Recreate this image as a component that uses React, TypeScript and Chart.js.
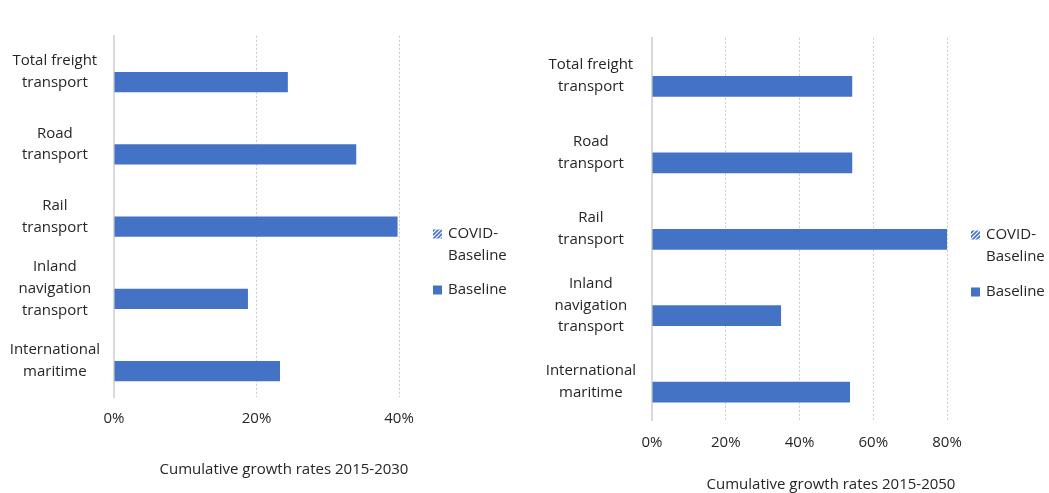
import React, { useEffect, useRef } from 'react';
import { Chart, registerables } from 'chart.js';

Chart.register(...registerables);

// ---------- data ----------
const categories: string[][] = [
  ['Total freight', 'transport'],
  ['Road', 'transport'],
  ['Rail', 'transport'],
  ['Inland', 'navigation', 'transport'],
  ['International', 'maritime'],
];
const seriesNames = ['COVID-Baseline', 'Baseline'];

const covid2030: (number | null)[] = [null, null, null, null, null];
const baseline2030 = [0.244, 0.34, 0.398, 0.188, 0.233];
const ticks2030 = [0, 0.2, 0.4];
const title2030 = 'Cumulative growth rates 2015-2030';

const covid2050: (number | null)[] = [null, null, null, null, null];
const baseline2050 = [0.543, 0.543, 0.8, 0.35, 0.537];
const ticks2050 = [0, 0.2, 0.4, 0.6, 0.8];
const title2050 = 'Cumulative growth rates 2015-2050';

// ---------- style ----------
const FONT = '"Open Sans", "Noto Sans", sans-serif';
const FONT_SIZE = 15;
const TEXT = '#262626';
const BLUE = '#4472C4';

function makeHatch(): CanvasPattern | string {
  const c = document.createElement('canvas');
  c.width = 4;
  c.height = 4;
  const g = c.getContext('2d');
  if (!g) return BLUE;
  g.fillStyle = '#ffffff';
  g.fillRect(0, 0, 4, 4);
  g.strokeStyle = BLUE;
  g.lineWidth = 1.6;
  g.beginPath();
  g.moveTo(0, 4);
  g.lineTo(4, 0);
  g.moveTo(-1, 1);
  g.lineTo(1, -1);
  g.moveTo(3, 5);
  g.lineTo(5, 3);
  g.stroke();
  const p = g.createPattern(c, 'repeat');
  return p || BLUE;
}

const sideLegend = {
  id: 'sideLegend',
  afterDraw(chart: any, _args: any, opts: any) {
    const { ctx } = chart;
    ctx.save();
    ctx.font = `${FONT_SIZE}px ${FONT}`;
    ctx.textBaseline = 'middle';
    ctx.textAlign = 'left';
    chart.data.datasets.forEach((ds: any, i: number) => {
      const y = opts.ys[i];
      ctx.fillStyle = ds.backgroundColor;
      ctx.fillRect(opts.x, y - 4.5, 9, 9);
      ctx.fillStyle = TEXT;
      const lines = String(ds.label).replace('-', '-\n').split('\n');
      lines.forEach((l: string, k: number) => ctx.fillText(l, opts.x + 15, y + k * 21.7));
    });
    ctx.restore();
  },
};

const axisTitle = {
  id: 'axisTitle',
  afterDraw(chart: any, _args: any, opts: any) {
    const { ctx } = chart;
    ctx.save();
    ctx.font = `${FONT_SIZE}px ${FONT}`;
    ctx.fillStyle = TEXT;
    ctx.textAlign = 'center';
    ctx.textBaseline = 'middle';
    ctx.fillText(opts.text, opts.x, opts.y);
    ctx.restore();
  },
};

type PanelProps = {
  width: number;
  height: number;
  covid: (number | null)[];
  baseline: number[];
  ticks: number[];
  title: string;
  yAxisWidth: number;
  xAxisHeight: number;
  padTop: number;
  padRight: number;
  labelPad: number;
  tickPad: number;
  catPct: number;
  legendX: number;
  legendYs: number[];
  titleX: number;
  titleY: number;
};

function Panel(p: PanelProps) {
  const ref = useRef<HTMLCanvasElement | null>(null);
  useEffect(() => {
    if (!ref.current) return;
    const hatch = makeHatch();
    const chart = new Chart(ref.current, {
      type: 'bar',
      data: {
        labels: categories,
        datasets: [
          {
            label: seriesNames[0],
            data: p.covid as any,
            backgroundColor: hatch as any,
            borderWidth: 0,
            barPercentage: 1,
            categoryPercentage: p.catPct,
          },
          {
            label: seriesNames[1],
            data: p.baseline,
            backgroundColor: BLUE,
            borderWidth: 0,
            barPercentage: 1,
            categoryPercentage: p.catPct,
          },
        ],
      },
      options: {
        indexAxis: 'y',
        responsive: false,
        animation: false,
        devicePixelRatio: 1,
        layout: { padding: { top: p.padTop, right: p.padRight, left: 0, bottom: 0 } },
        plugins: {
          legend: { display: false },
          tooltip: { enabled: false },
          sideLegend: { x: p.legendX, ys: p.legendYs },
          axisTitle: { text: p.title, x: p.titleX, y: p.titleY },
        } as any,
        scales: {
          x: {
            type: 'linear',
            min: 0,
            max: p.ticks[p.ticks.length - 1],
            afterBuildTicks: (scale: any) => {
              scale.ticks = p.ticks.map((v) => ({ value: v }));
            },
            afterFit: (scale: any) => {
              scale.height = p.xAxisHeight;
            },
            grid: {
              color: (c: any) => (c.index === 0 ? 'rgba(0,0,0,0)' : '#c9c9c9'),
              lineWidth: 1,
              drawTicks: false,
            },
            border: { display: false, dash: [2, 2] },
            ticks: {
              padding: p.tickPad,
              maxRotation: 0,
              autoSkip: false,
              color: TEXT,
              font: { family: FONT, size: FONT_SIZE },
              callback: (v: any) => `${Math.round(Number(v) * 100)}%`,
            },
          },
          y: {
            type: 'category',
            afterFit: (scale: any) => {
              scale.width = p.yAxisWidth;
            },
            grid: { display: false, drawTicks: false },
            border: { display: true, color: '#d9d9d9', width: 2 },
            ticks: {
              crossAlign: 'center',
              padding: p.labelPad,
              color: TEXT,
              font: { family: FONT, size: FONT_SIZE, lineHeight: 1.45 },
            },
          },
        },
      },
      plugins: [sideLegend, axisTitle],
    });
    return () => chart.destroy();
  }, []);
  return <canvas ref={ref} width={p.width} height={p.height} style={{ display: 'block' }} />;
}

export default function App() {
  return (
    <div style={{ position: 'fixed', left: 0, top: 0, width: 1049, height: 493, overflow: 'hidden', background: '#fff' }}>
      <div style={{ position: 'absolute', left: 0, top: 0 }}>
        <Panel
          width={520}
          height={485}
          covid={covid2030}
          baseline={baseline2030}
          ticks={ticks2030}
          title={title2030}
          yAxisWidth={114}
          xAxisHeight={88}
          padTop={13}
          padRight={121}
          labelPad={14}
          tickPad={13}
          catPct={0.565}
          legendX={433}
          legendYs={[234, 290]}
          titleX={284}
          titleY={470}
        />
      </div>
      <div style={{ position: 'absolute', left: 520, top: 0 }}>
        <Panel
          width={529}
          height={510}
          covid={covid2050}
          baseline={baseline2050}
          ticks={ticks2050}
          title={title2050}
          yAxisWidth={132}
          xAxisHeight={90}
          padTop={15}
          padRight={102}
          labelPad={16}
          tickPad={14}
          catPct={0.543}
          legendX={451}
          legendYs={[235, 292]}
          titleX={311}
          titleY={485}
        />
      </div>
    </div>
  );
}
